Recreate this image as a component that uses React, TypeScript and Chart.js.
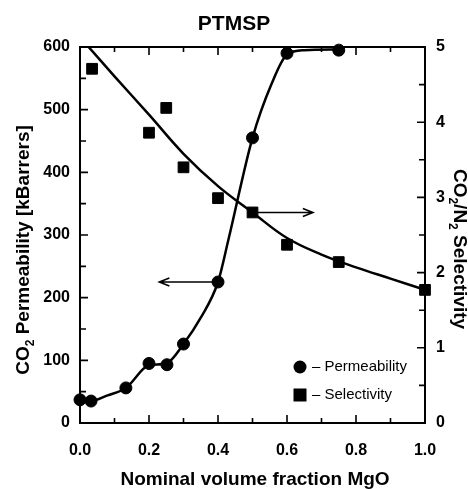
import React, { useEffect, useRef } from "react";
import { Chart, registerables } from "chart.js";

Chart.register(...registerables);

// ---- data ----
const xTickValues = [0, 0.2, 0.4, 0.6, 0.8, 1.0];
const xMinorTicks = [0, 0.1, 0.2, 0.3, 0.4, 0.5, 0.6, 0.7, 0.8, 0.9, 1.0];
const yLeftTicks = [0, 100, 200, 300, 400, 500, 600];
const yLeftMinor = [0, 50, 100, 150, 200, 250, 300, 350, 400, 450, 500, 550, 600];
const yRightTicks = [0, 1, 2, 3, 4, 5];
const yRightMinor = [0, 0.5, 1, 1.5, 2, 2.5, 3, 3.5, 4, 4.5, 5];

const permX = [0, 0.032, 0.133, 0.2, 0.252, 0.3, 0.4, 0.5, 0.6, 0.75];
const permY = [37, 35, 56, 95, 93, 126, 225, 455, 590, 595];
const permFitX = [0, 0.03, 0.08, 0.133, 0.2, 0.25, 0.3, 0.35, 0.4, 0.43, 0.5, 0.556, 0.6, 0.65, 0.75];
const permFitY = [37, 35, 44, 56, 92, 95, 126, 168, 225, 292, 455, 542, 588, 595, 596];

const selX = [0.035, 0.2, 0.25, 0.3, 0.4, 0.5, 0.6, 0.75, 1.0];
const selY = [4.71, 3.86, 4.19, 3.4, 2.99, 2.8, 2.37, 2.14, 1.77];
const selFitX = [0.025, 0.1, 0.2, 0.3, 0.4, 0.5, 0.6, 0.7, 0.8, 0.9, 1.0];
const selFitY = [5.0, 4.61, 4.1, 3.58, 3.15, 2.8, 2.46, 2.24, 2.07, 1.92, 1.77];

// arrows: [x start, x end, y value]
const leftArrow = [0.4, 0.23, 225];
const rightArrow = [0.5, 0.675, 2.8];

const FONT = "'Liberation Sans', Arial, Helvetica, sans-serif";

type Part = { t: string; sub?: boolean };
const leftTitle: Part[] = [{ t: "CO" }, { t: "2", sub: true }, { t: " Permeability [kBarrers]" }];
const rightTitle: Part[] = [{ t: "CO" }, { t: "2", sub: true }, { t: "/N" }, { t: "2", sub: true }, { t: " Selectivity" }];
const xTitle: Part[] = [{ t: "Nominal volume fraction MgO" }];

function drawRich(ctx: CanvasRenderingContext2D, parts: Part[], cx: number, cy: number, rot: number, size: number) {
  ctx.save();
  ctx.translate(cx, cy);
  ctx.rotate(rot);
  ctx.fillStyle = "#000";
  ctx.textBaseline = "middle";
  ctx.textAlign = "left";
  const big = `bold ${size}px ${FONT}`;
  const small = `bold ${Math.round(size * 0.62)}px ${FONT}`;
  let total = 0;
  for (const p of parts) {
    ctx.font = p.sub ? small : big;
    total += ctx.measureText(p.t).width;
  }
  let x = -total / 2;
  for (const p of parts) {
    ctx.font = p.sub ? small : big;
    ctx.fillText(p.t, x, p.sub ? size * 0.35 : 0);
    x += ctx.measureText(p.t).width;
  }
  ctx.restore();
}

function drawArrow(ctx: CanvasRenderingContext2D, x1: number, x2: number, y: number) {
  const dir = x2 > x1 ? 1 : -1;
  ctx.beginPath();
  ctx.moveTo(x1, y);
  ctx.lineTo(x2, y);
  ctx.moveTo(x2 - dir * 10, y - 4);
  ctx.lineTo(x2, y);
  ctx.lineTo(x2 - dir * 10, y + 4);
  ctx.stroke();
}

const decorPlugin = {
  id: "decor",
  beforeDatasetsDraw(chart: any) {
    const { ctx, chartArea: a, scales } = chart;
    ctx.save();
    ctx.strokeStyle = "#000";
    ctx.lineWidth = 2;
    ctx.strokeRect(a.left, a.top, a.right - a.left, a.bottom - a.top);
    ctx.lineWidth = 1.6;
    ctx.beginPath();
    xMinorTicks.forEach((v, i) => {
      const px = scales.x.getPixelForValue(v);
      const len = i % 2 === 0 ? 8 : 5;
      ctx.moveTo(px, a.bottom);
      ctx.lineTo(px, a.bottom - len);
      ctx.moveTo(px, a.top);
      ctx.lineTo(px, a.top + len);
    });
    yLeftMinor.forEach((v, i) => {
      const py = scales.y.getPixelForValue(v);
      const len = i % 2 === 0 ? 8 : 6;
      ctx.moveTo(a.left, py);
      ctx.lineTo(a.left + len, py);
    });
    yRightMinor.forEach((v, i) => {
      const py = scales.y2.getPixelForValue(v);
      const len = i % 2 === 0 ? 8 : 6;
      ctx.moveTo(a.right, py);
      ctx.lineTo(a.right - len, py);
    });
    ctx.stroke();
    ctx.lineWidth = 1.6;
    drawArrow(
      ctx,
      scales.x.getPixelForValue(leftArrow[0]),
      scales.x.getPixelForValue(leftArrow[1]),
      scales.y.getPixelForValue(leftArrow[2])
    );
    drawArrow(
      ctx,
      scales.x.getPixelForValue(rightArrow[0]),
      scales.x.getPixelForValue(rightArrow[1]),
      scales.y2.getPixelForValue(rightArrow[2])
    );
    ctx.restore();
  },
  afterDraw(chart: any) {
    const { ctx, chartArea: a } = chart;
    ctx.save();
    const lx = a.right - 125;
    const ly1 = a.bottom - 56;
    const ly2 = a.bottom - 28;
    ctx.fillStyle = "#000";
    ctx.beginPath();
    ctx.arc(lx, ly1, 6.5, 0, Math.PI * 2);
    ctx.fill();
    ctx.fillRect(lx - 6.5, ly2 - 6.5, 13, 13);
    ctx.font = `15px ${FONT}`;
    ctx.textBaseline = "middle";
    ctx.textAlign = "left";
    ctx.fillText("\u2013 Permeability", lx + 12, ly1);
    ctx.fillText("\u2013 Selectivity", lx + 12, ly2);
    ctx.restore();
    const W = chart.width;
    drawRich(ctx, leftTitle, 24, 250, -Math.PI / 2, 19);
    drawRich(ctx, rightTitle, W - 9, 249, Math.PI / 2, 19);
    drawRich(ctx, xTitle, 255, 480, 0, 19);
  },
};

function pts(xs: number[], ys: number[]) {
  return xs.map((x, i) => ({ x, y: ys[i] }));
}

export default function App() {
  const ref = useRef<HTMLCanvasElement | null>(null);
  useEffect(() => {
    document.body.style.margin = "0";
    if (!ref.current) return;
    Chart.defaults.font.family = FONT;
    const tickFont = { size: 16, weight: "bold" as const, family: FONT };
    const chart = new Chart(ref.current, {
      type: "scatter",
      data: {
        datasets: [
          {
            data: pts(permFitX, permFitY),
            showLine: true,
            pointRadius: 0,
            borderColor: "#000",
            borderWidth: 2.5,
            cubicInterpolationMode: "monotone",
            yAxisID: "y",
          },
          {
            data: pts(permX, permY),
            showLine: false,
            pointStyle: "circle",
            pointRadius: 6,
            backgroundColor: "#000",
            borderColor: "#000",
            borderWidth: 1,
            yAxisID: "y",
            clip: false,
          },
          {
            data: pts(selFitX, selFitY),
            showLine: true,
            pointRadius: 0,
            borderColor: "#000",
            borderWidth: 2.5,
            tension: 0.4,
            yAxisID: "y2",
          },
          {
            data: pts(selX, selY),
            showLine: false,
            pointStyle: "rect",
            pointRadius: 7.6,
            backgroundColor: "#000",
            borderColor: "#000",
            borderWidth: 1,
            yAxisID: "y2",
            clip: false,
          },
        ],
      } as any,
      options: {
        animation: false,
        responsive: false,
        events: [],
        layout: { padding: 0 },
        plugins: {
          legend: { display: false },
          tooltip: { enabled: false },
          title: {
            display: true,
            text: "PTMSP",
            color: "#000",
            font: { size: 21, weight: "bold", family: FONT },
            padding: { top: 12, bottom: 9.8 },
          },
        },
        scales: {
          x: {
            type: "linear",
            min: 0,
            max: 1,
            grid: { display: false, drawTicks: false },
            border: { display: false },
            afterBuildTicks: (s: any) => {
              s.ticks = xTickValues.map((v) => ({ value: v }));
            },
            ticks: {
              color: "#000",
              font: tickFont,
              padding: 18,
              maxRotation: 0,
              callback: (v: any) => Number(v).toFixed(1),
            },
            afterFit: (s: any) => {
              s.height = 66;
            },
          },
          y: {
            type: "linear",
            position: "left",
            min: 0,
            max: 600,
            grid: { display: false, drawTicks: false },
            border: { display: false },
            afterBuildTicks: (s: any) => {
              s.ticks = yLeftTicks.map((v) => ({ value: v }));
            },
            ticks: { color: "#000", font: tickFont, padding: 10 },
            afterFit: (s: any) => {
              s.width = 80;
            },
          },
          y2: {
            type: "linear",
            position: "right",
            min: 0,
            max: 5,
            grid: { display: false, drawTicks: false },
            border: { display: false },
            afterBuildTicks: (s: any) => {
              s.ticks = yRightTicks.map((v) => ({ value: v }));
            },
            ticks: { color: "#000", font: tickFont, padding: 11 },
            afterFit: (s: any) => {
              s.width = 43;
            },
          },
        },
      } as any,
      plugins: [decorPlugin],
    });
    return () => chart.destroy();
  }, []);
  return (
    <div style={{ width: 468, height: 489, background: "#fff" }}>
      <canvas ref={ref} width={468} height={489} style={{ display: "block" }} />
    </div>
  );
}
